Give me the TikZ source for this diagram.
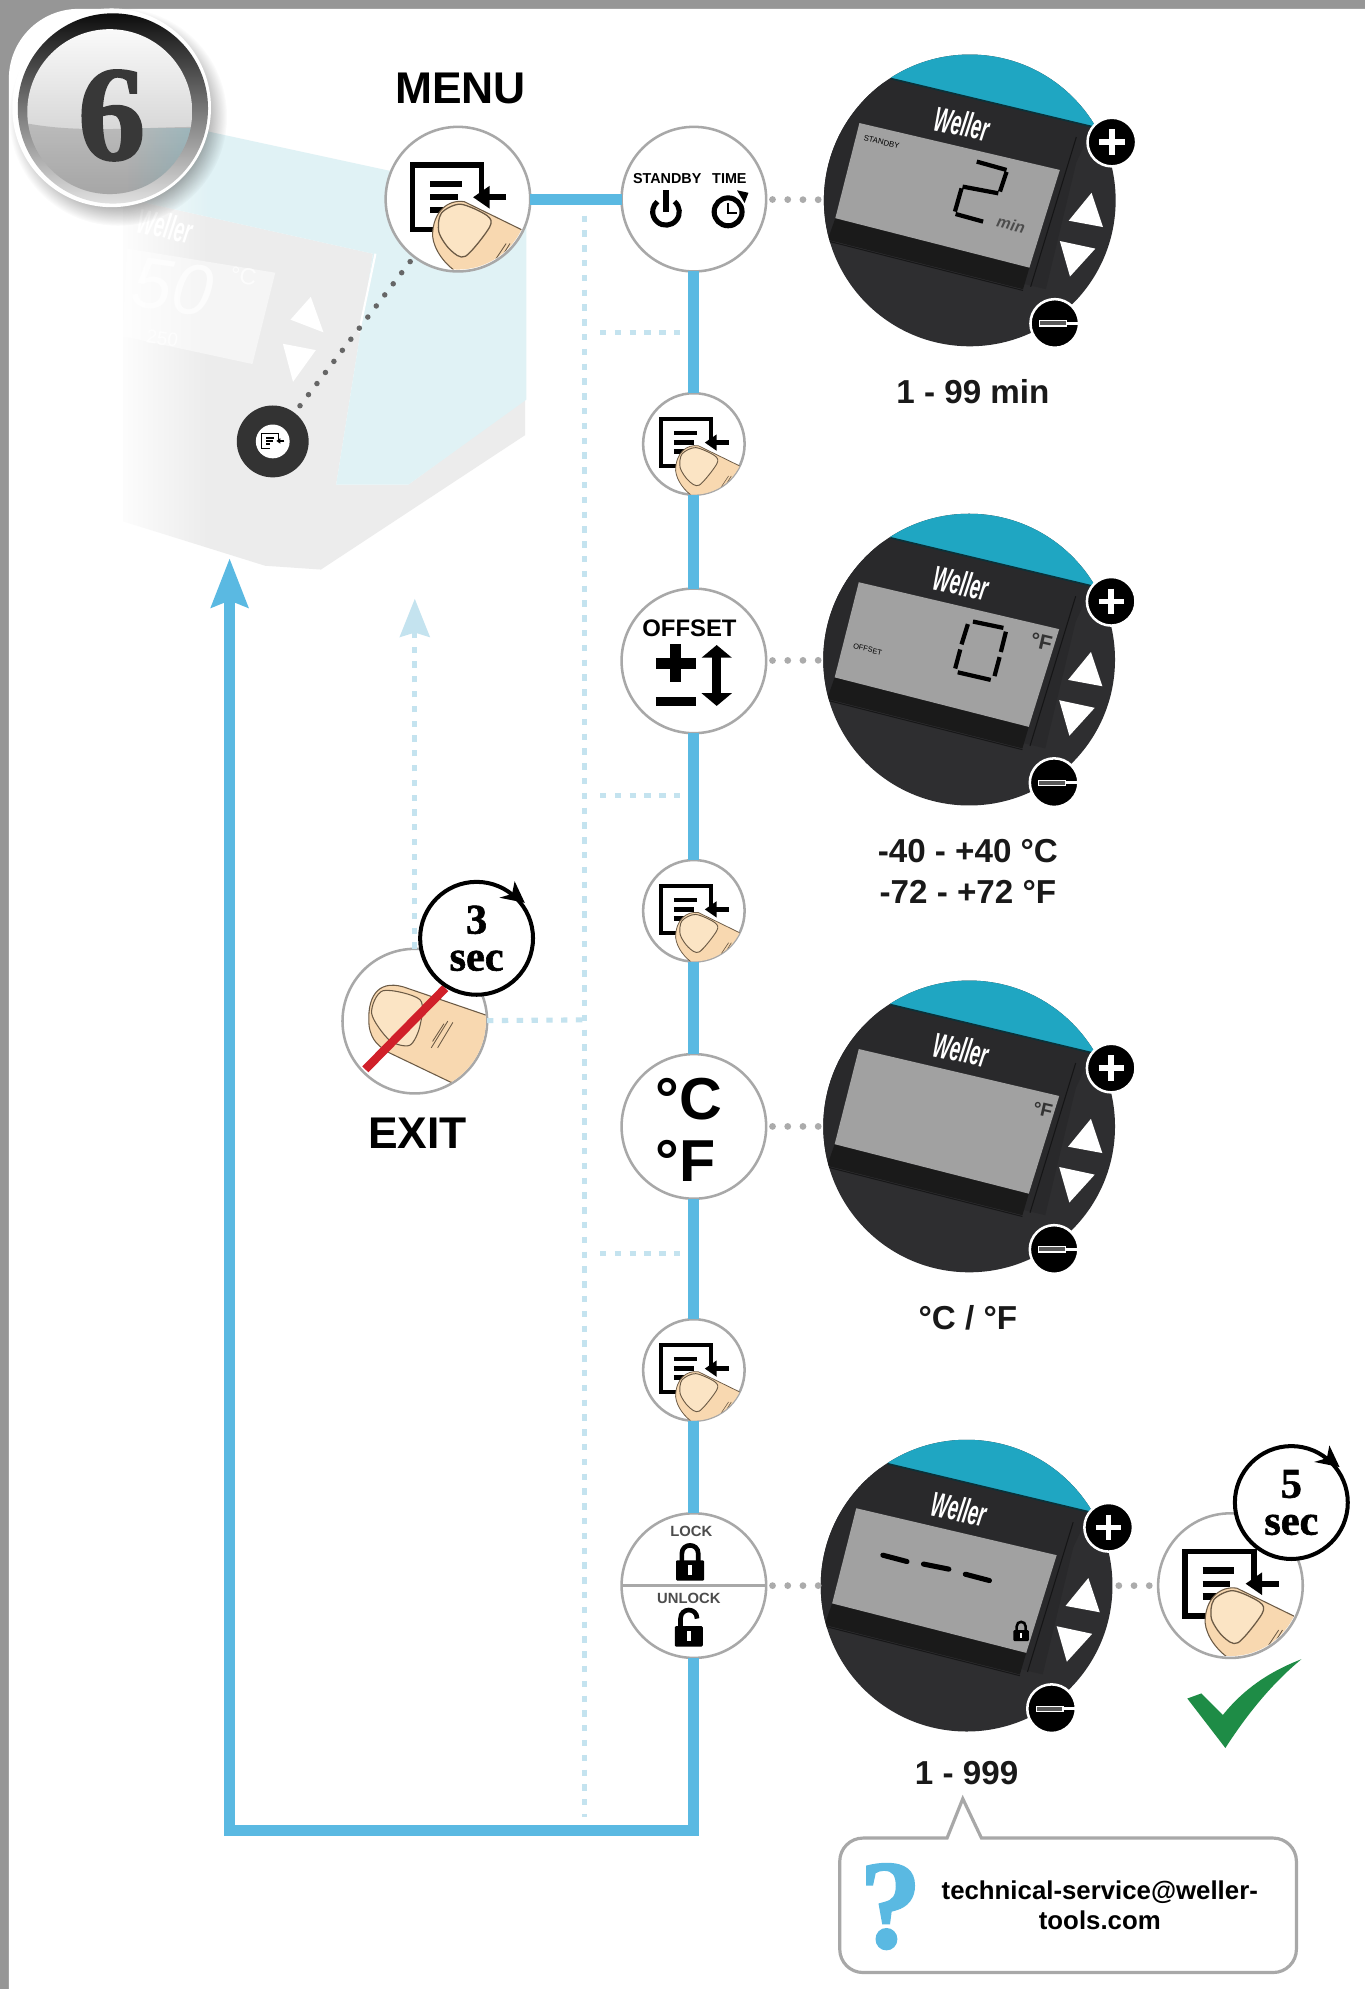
\documentclass[tikz,border=0pt]{standalone}
\usepackage{fontspec}
\setmainfont{Liberation Sans}
\newfontfamily\badgefont[BoldFeatures={FakeBold=1.4}]{Liberation Serif}
\usetikzlibrary{arrows.meta,positioning,fadings}

\newcommand{\fsz}[1]{\fontsize{#1}{#1}\selectfont}
\newcommand{\wellerlogo}{\scalebox{.53}[1]{\bfseries\itshape\fsz{16.5}Weller}}

\definecolor{flowblue}{HTML}{5AB9E2}
\definecolor{tapblue}{HTML}{C4E3EF}
\definecolor{ringgray}{HTML}{A8A8A8}
\definecolor{dotgray}{HTML}{ABABAB}
\definecolor{panelgray}{HTML}{969696}
\definecolor{devgray}{HTML}{ECECEC}
\definecolor{devblue}{HTML}{E0F2F5}
\definecolor{lcdbody}{HTML}{2E2E30}
\definecolor{lcdband}{HTML}{29292B}
\definecolor{lcdstrip}{HTML}{1A1A1A}
\definecolor{lcdgray}{HTML}{A1A1A1}
\definecolor{capteal}{HTML}{1FA6C2}
\definecolor{skin}{HTML}{F8D8B0}
\definecolor{nailskin}{HTML}{FBE4C4}
\definecolor{skinline}{HTML}{6B5A45}
\definecolor{slashred}{HTML}{D0202A}
\definecolor{tickgreen}{HTML}{1E8C46}

\tikzset{
  bigstep/.style={circle, draw=ringgray, fill=white, line width=1.2pt, minimum size=68.4pt, inner sep=0pt, outer sep=0pt},
  smallstep/.style={bigstep, minimum size=48pt},
  flowline/.style={draw=flowblue, line width=5.2pt},
  tapline/.style={draw=tapblue, line width=2.4pt, dash pattern=on 3pt off 4pt},
  dotline/.style={draw=dotgray, line width=3.2pt, line cap=round, dash pattern=on 0pt off 7.2pt, shorten <=3pt, shorten >=0pt},
  lcdframe/.style={circle, fill=lcdbody, minimum size=138pt, inner sep=0pt, outer sep=0pt},
  rangetext/.style={font=\bfseries\fsz{15.7}, align=center, text=black!90},
  headtext/.style={font=\bfseries\fsz{21}, text=black},
  timerbadge/.style={circle, draw=black, fill=white, line width=1.9pt, minimum size=53.4pt, inner sep=0pt, align=center,
    font=\badgefont\bfseries\fontsize{20}{17.5}\selectfont},
  lcdbutton/.style={circle, fill=black, draw=white, line width=1.2pt, minimum size=23pt, inner sep=0pt},
  segline/.style={draw=black, line width=2pt},
  pics/menuglyph/.style={code={
    \begin{scope}[scale=#1]
      \draw[line width=#1*2.6pt] (18.7,-4) -- (18.7,-27) -- (-36,-27) -- (-36,24) -- (-8,24);
      \draw[line width=#1*3pt] (-22,-12) -- (3,-12) (-22,-1.5) -- (0,-1.5) (-22,8.5) -- (-8,8.5);
      \draw[line width=#1*3pt] (38,-1.5) -- (22,-1.5);
      \fill (12,-1.5) -- (25,-10.5) -- (25,7.5) -- cycle;
    \end{scope}
  }},
  pics/menuicon/.style={code={
    \pic {menuglyph=#1};
    \begin{scope}[scale=#1]
      \clip (0,0) circle (55.5);
      \filldraw[fill=skin, draw=skinline, line width=#1*.5pt] (50,24) -- (5,2) .. controls (-8,0) and (-20,10) .. (-20,29)
        .. controls (-19,40) and (-10,52) .. (0,58) -- (60,60) -- cycle;
      \filldraw[fill=nailskin, draw=skinline, line width=#1*.6pt] plot[smooth cycle] coordinates
        {(-13,11) (2,4) (23,13) (25,22) (6,45) (-6,40) (-15,26)};
      \draw[skinline, line width=#1*.4pt] (41,35) -- (33,48) (44,36) -- (36,50) (38,35) -- (30,47);
    \end{scope}
  }},
  pics/fingerside/.style={code={
    \begin{scope}
      \clip (0,0) circle (56);
      \filldraw[fill=skin, draw=skinline, line width=.5pt] (70,0) -- (-9,-27) .. controls (-30,-33) and (-38,-18) .. (-36,4)
        .. controls (-34,16) and (-28,20) .. (-20,25) -- (28,48) -- (70,60) -- cycle;
      \filldraw[fill=nailskin, draw=skinline, line width=.5pt] plot[smooth cycle] coordinates
        {(-25,-24) (4,-17) (4,4) (-4,19) (-20,15) (-34,-6)};
      \draw[skinline, line width=.4pt] (26,0) -- (13,21) (30,1) -- (18,21) (23,2) -- (14,16);
    \end{scope}
  }},
  pics/timertip/.style={code={
    \fill[black] (18,-32) -- (38,-28) -- (30,-45) -- (28,-35) -- cycle;
  }},
  pics/padlock/.style={code={
    \begin{scope}[scale=#1]
      \draw[line width=#1*2.2pt] (-6.5,1) -- (-6.5,-5) .. controls (-6.5,-14) and (6.5,-14) .. (6.5,-5) -- (6.5,1);
      \fill[black, rounded corners=.5pt] (-11,0) rectangle (11,16);
      \fill[white] (-1.7,4) rectangle (1.7,12);
    \end{scope}
  }},
  pics/openlock/.style={code={
    \draw[line width=2.2pt] (-6.5,1) -- (-6.5,-6) .. controls (-6.5,-15) and (6.5,-15) .. (6.5,-6);
    \fill[black, rounded corners=.5pt] (-11,0) rectangle (11,16);
    \fill[white] (-1.7,4) rectangle (1.7,12);
  }},
  pics/lcdface/.style={code={
    \begin{scope}
      \clip (0,0) circle (115);
      \fill[capteal] (-62,-96) -- (97,-58) -- (130,-58) -- (130,-130) -- (-62,-130) -- cycle;
      \fill[lcdband] (-62,-96) -- (97,-58) -- (84,-30) -- (60,70) -- (-125,25) -- (-125,-60) -- cycle;
      \draw[black!70!capteal, line width=.8pt] (-62,-96) -- (97,-58);
      \fill[lcdstrip] (-106,14) -- (47,53) -- (42,70) -- (-112,31) -- cycle;
      \draw[black!50!lcdbody, line width=.5pt] (-112,32) -- (42,71);
    \end{scope}
    \draw[black!55!lcdbody, line width=.5pt] (84,-50) -- (48,68);
    \fill[lcdgray] (-87,-61) -- (71,-24) -- (47,53) -- (-106,14) -- cycle;
    \node[text=white, rotate=-12, inner sep=0pt] (-brand) at (-6,-60.5) {\wellerlogo};
    \fill[white] (96,-6) -- (78,16) -- (105,21) -- cycle;
    \fill[white] (71,32) -- (99,38) -- (79,60) -- cycle;
    \node[lcdbutton] (-plus) at (112,-46) {};
    \draw[white, line width=2.6pt] (102,-46) -- (122,-46) (112,-56) -- (112,-36);
    \node[lcdbutton] (-minus) at (67,97) {};
    \filldraw[fill=black!65, draw=white, line width=.5pt] (55,95) rectangle (76,99);
    \fill[white] (76,95.8) rectangle (87,98.2);
  }}
}

\begin{document}
\begin{tikzpicture}[x=0.6pt, y=-0.6pt]
  \useasboundingbox (0,0) rectangle (1076,1568);

  % page frame
  \fill[panelgray] (0,0) rectangle (1076,1568);
  \fill[white] (7,1568) [rounded corners=33pt] -- (7,7) [sharp corners] -- (1076,7) -- (1076,1568) -- cycle;

  % station in the back
  \fill[devgray] (97,156) -- (294,200) -- (265,382) -- (322,382) -- (414,315) -- (414,343) -- (253,449) -- (209,446) -- (97,411) -- cycle;
  \fill[devblue] (97,89) -- (161,103) -- (415,158) -- (415,315) -- (322,382) -- (265,382) -- (294,200) -- (97,156) -- cycle;
  \fill[black!4] (100,196) -- (217,215) -- (199,287) -- (97,265) -- cycle;
  \draw[white, line width=1pt] (296,200) -- (283,262);
  \fill[white] (245,234) -- (229,252) -- (255,262) -- cycle;
  \fill[white] (223,271) -- (249,276) -- (231,301) -- cycle;
  \node[text=black!1, rotate=-8, font=\itshape\fsz{34}] (ghosttemp) at (136,226) {50};
  \node[text=black!1, rotate=-8, font=\fsz{11}] (ghostunit) at (192,218) {°C};
  \node[text=black!1, rotate=-8, font=\fsz{9}] (ghostset) at (128,267) {250};
  \node[text=white, rotate=-12, inner sep=0pt] (ghostbrand) at (130,178) {\wellerlogo};
  \fill[white, path fading=east] (88,85) rectangle (165,460);

  % dotted trunk
  \coordinate (trunktop) at (461,170);
  \coordinate (trunkfoot) at (461,1432);
  \draw[tapline] (trunktop) -- (trunkfoot);
  \foreach \yy/\nm in {262/a,627/b,988/c} {
    \coordinate (tap\nm l) at (473,\yy);
    \coordinate (tap\nm r) at (537,\yy);
    \draw[tapline] (tap\nm l) -- (tap\nm r);
  }

  % steps
  \node[bigstep] (menu) at (361,157) {};
  \node[bigstep, right=43.2pt of menu] (standby) {};
  \node[smallstep, below=57.6pt of standby] (menua) {};
  \node[bigstep, below=44.4pt of menua] (offset) {};
  \node[smallstep, below=60pt of offset] (menub) {};
  \node[bigstep, below=43.8pt of menub] (units) {};
  \node[smallstep, below=57pt of units] (menuc) {};
  \node[bigstep, below=43.8pt of menuc] (lock) {};

  \node[headtext, above=7.5pt of menu, xshift=1.2pt] (menulabel) {MENU};
  \pic at (menu) {menuicon=1};
  \pic at (menua) {menuicon=0.72};
  \pic at (menub) {menuicon=0.72};
  \pic at (menuc) {menuicon=0.72};
  \node[font=\bfseries\fontsize{28}{29.4}\selectfont, align=left, inner sep=0pt] (unitstxt) at (543,891) {°C\\°F};

  % flow
  \coordinate (retfoot) at (181,1443);
  \coordinate (rettip) at (181,440);
  \draw[flowline] (menu) -- (standby);
  \draw[flowline] (standby) -- (menua);
  \draw[flowline] (menua) -- (offset);
  \draw[flowline] (offset) -- (menub);
  \draw[flowline] (menub) -- (units);
  \draw[flowline] (units) -- (menuc);
  \draw[flowline] (menuc) -- (lock);
  \draw[flowline, -{Stealth[length=23pt, width=17pt, inset=3pt]}] (lock) |- (retfoot) -- (rettip);

  % standby time icon
  \node[font=\bfseries\fsz{6.8}] (standbytxt) at (526,141) {STANDBY};
  \node[font=\bfseries\fsz{6.8}] (timetxt) at (575,141) {TIME};
  \draw[line width=2.4pt] ([shift={(-50:10.5)}]525,167) arc[start angle=-50, end angle=230, radius=10.5];
  \draw[line width=2.4pt] (525,150) -- (525,167);
  \draw[line width=2.4pt] (574,167) circle (11);
  \draw[line width=1.2pt] (574,160) -- (574,168) -- (581,168);
  \fill (590,152) -- (581,150) -- (587,160) -- cycle;

  % offset icon
  \node[font=\bfseries\fsz{11.3}] (offsettxt) at (543.5,495) {OFFSET};
  \draw[line width=5.5pt] (517,523) -- (548.5,523) (532.6,508) -- (532.6,538);
  \draw[line width=4.7pt] (517,553) -- (548.5,553);
  \draw[line width=4pt, {Stealth[length=6pt, width=14pt, inset=0pt]}-{Stealth[length=6pt, width=14pt, inset=0pt]}] (565,508.5) -- (565,556.5);

  % lock icon
  \draw[draw=ringgray, line width=1.2pt] (lock.west) -- (lock.east);
  \node[font=\bfseries\fsz{7}, text=black!70] (locktxt) at (545,1207) {LOCK};
  \node[font=\bfseries\fsz{7}, text=black!70] (unlocktxt) at (543,1260) {UNLOCK};
  \pic at (544,1230) {padlock=1};
  \pic at (543,1282) {openlock};

  % displays
  \node[lcdframe] (dispa) at (764.5,158) {};
  \node[lcdframe] (dispb) at (764,520) {};
  \node[lcdframe] (dispc) at (764,888) {};
  \node[lcdframe] (dispd) at (762,1250) {};
  \pic (lcda) at (dispa) {lcdface};
  \pic (lcdb) at (dispb) {lcdface};
  \pic (lcdc) at (dispc) {lcdface};
  \pic (lcdd) at (dispd) {lcdface};
  \draw[dotline] (standby) -- (dispa);
  \draw[dotline] (offset) -- (dispb);
  \draw[dotline] (units) -- (dispc);
  \draw[dotline] (lock) -- (dispd);

  % what the screens show
  \node[rotate=-13, font=\fsz{3.7}] (modea) at (695,112) {STANDBY};
  \draw[segline] (770,127.4) -- (793.5,134) (793.5,135.5) -- (788.3,151) (787,152.4) -- (758.8,147.1)
    (758,148.5) -- (752.8,166.8) (753.3,168.7) -- (775,174.7);
  \node[rotate=-13, font=\bfseries\itshape\fsz{7.5}, text=black!70] (mina) at (797,177) {min};
  \node[rotate=-13, font=\fsz{3.5}] (modeb) at (684,512) {OFFSET};
  \draw[segline] (767,490) -- (791,495) (793,498) -- (789,514) (788,518) -- (784,533)
    (781,536) -- (755,530) (753,527) -- (757,512) (758,508) -- (763,492);
  \node[rotate=-13, font=\bfseries\fsz{10}, text=black!80] (unitb) at (821,506) {°F};
  \node[rotate=-13, font=\bfseries\fsz{9}, text=black!80] (unitc) at (822,875) {°F};
  \coordinate (dasha) at (696,1226);
  \coordinate (dashb) at (715,1231);
  \coordinate (dashc) at (728,1233);
  \coordinate (dashd) at (748,1237);
  \coordinate (dashe) at (761,1241);
  \coordinate (dashf) at (780,1246);
  \draw[line width=2.4pt, line cap=round] (dasha) -- (dashb) (dashc) -- (dashd) (dashe) -- (dashf);
  \pic at (805,1285) {padlock=0.55};

  \node[rangetext] (rangea) at (767,309) {1 - 99 min};
  \node[rangetext, font=\bfseries\fontsize{15.7}{19.2}\selectfont] (rangeb) at (763,687) {-40 - +40 °C\\-72 - +72 °F};
  \node[rangetext] (rangec) at (763,1039) {°C / °F};
  \node[rangetext] (ranged) at (762,1398) {1 - 999};

  % ghost button
  \node[circle, fill=black!80, minimum size=34pt, inner sep=0pt] (ghostbtn) at (215,348) {};
  \node[circle, fill=white, minimum size=16pt, inner sep=0pt] (ghostcore) at (ghostbtn) {};
  \pic at (ghostbtn) {menuglyph=0.24};
  \draw[dotline, draw=black!60, line width=2.6pt, dash pattern=on 0pt off 6.6pt] (menu) -- (ghostbtn);

  % exit
  \node[bigstep] (exit) at (327,805) {};
  \pic at (exit) {fingerside};
  \coordinate (slasha) at (351,779);
  \coordinate (slashb) at (288,843);
  \draw[slashred, line width=4pt] (slasha) -- (slashb);
  \node[timerbadge] (timera) at (375.7,739.7) {3\\sec};
  \pic at (timera) {timertip};
  \node[headtext, below=8pt of exit, xshift=1.2pt] (exitlabel) {EXIT};
  \coordinate (trunkexit) at (461,804);
  \coordinate (exittip) at (327,472);
  \draw[tapline] (exit) -- (trunkexit);
  \draw[tapline, -{Stealth[length=18pt, width=14pt, inset=2pt]}] (exit) -- (exittip);

  % confirm
  \node[bigstep] (confirm) at (970,1250) {};
  \pic at (confirm) {menuicon=1};
  \node[timerbadge] (timerb) at (1018,1184.5) {5\\sec};
  \pic at (timerb) {timertip};
  \draw[dotline] (dispd) -- (confirm);
  \fill[tickgreen] (936,1339) -- (947,1335) -- (964,1352) .. controls (980,1332) and (1000,1318) .. (1026,1308)
    .. controls (1004,1326) and (984,1350) .. (966,1378) -- cycle;

  % mail box
  \draw[draw=ringgray, line width=1.5pt, fill=white] (773.7,1449) -- (759,1418) -- (746.6,1449) -- (700,1449) [rounded corners=11pt] -- (662,1449) -- (662,1555)
    -- (1022,1555) -- (1022,1449) -- (800,1449) [sharp corners] -- cycle;
  \node[text=flowblue, font=\badgefont\bfseries\fsz{60}, inner sep=0pt] (mailmark) at (702,1503) {\scalebox{.98}[1]{?}};
  \node[font=\bfseries\fontsize{12.2}{13.8}\selectfont, align=center] (mailtext) at (867,1502) {technical-service@weller-\\tools.com};

  % badge
  \fill[black, opacity=.32, path fading=circle with fuzzy edge 20 percent] (93,92) circle (86);
  \node[circle, minimum size=94pt, inner sep=0pt, fill=white] (badgerim) at (88,85) {};
  \node[circle, minimum size=90pt, inner sep=0pt, top color=black!95, middle color=black!50, bottom color=black!12] (badgering) at (89,85.5) {};
  \node[circle, minimum size=78pt, inner sep=0pt, top color=black!2, middle color=black!8, bottom color=black!24] (badgeface) at (86.5,88) {};
  \begin{scope}
    \clip (86.5,88) circle (65);
    \fill[black, opacity=.14] (15,96) .. controls (60,106) and (110,100) .. (160,100) -- (160,160) -- (15,160) -- cycle;
    \fill[capteal, opacity=.22, path fading=west] (100,101) -- (160,101) -- (160,160) -- (100,160) -- cycle;
  \end{scope}
  \node[text=black!78, font=\badgefont\bfseries\fsz{64}, inner sep=0pt] (stepno) at (88,91) {6};
\end{tikzpicture}
\end{document}
